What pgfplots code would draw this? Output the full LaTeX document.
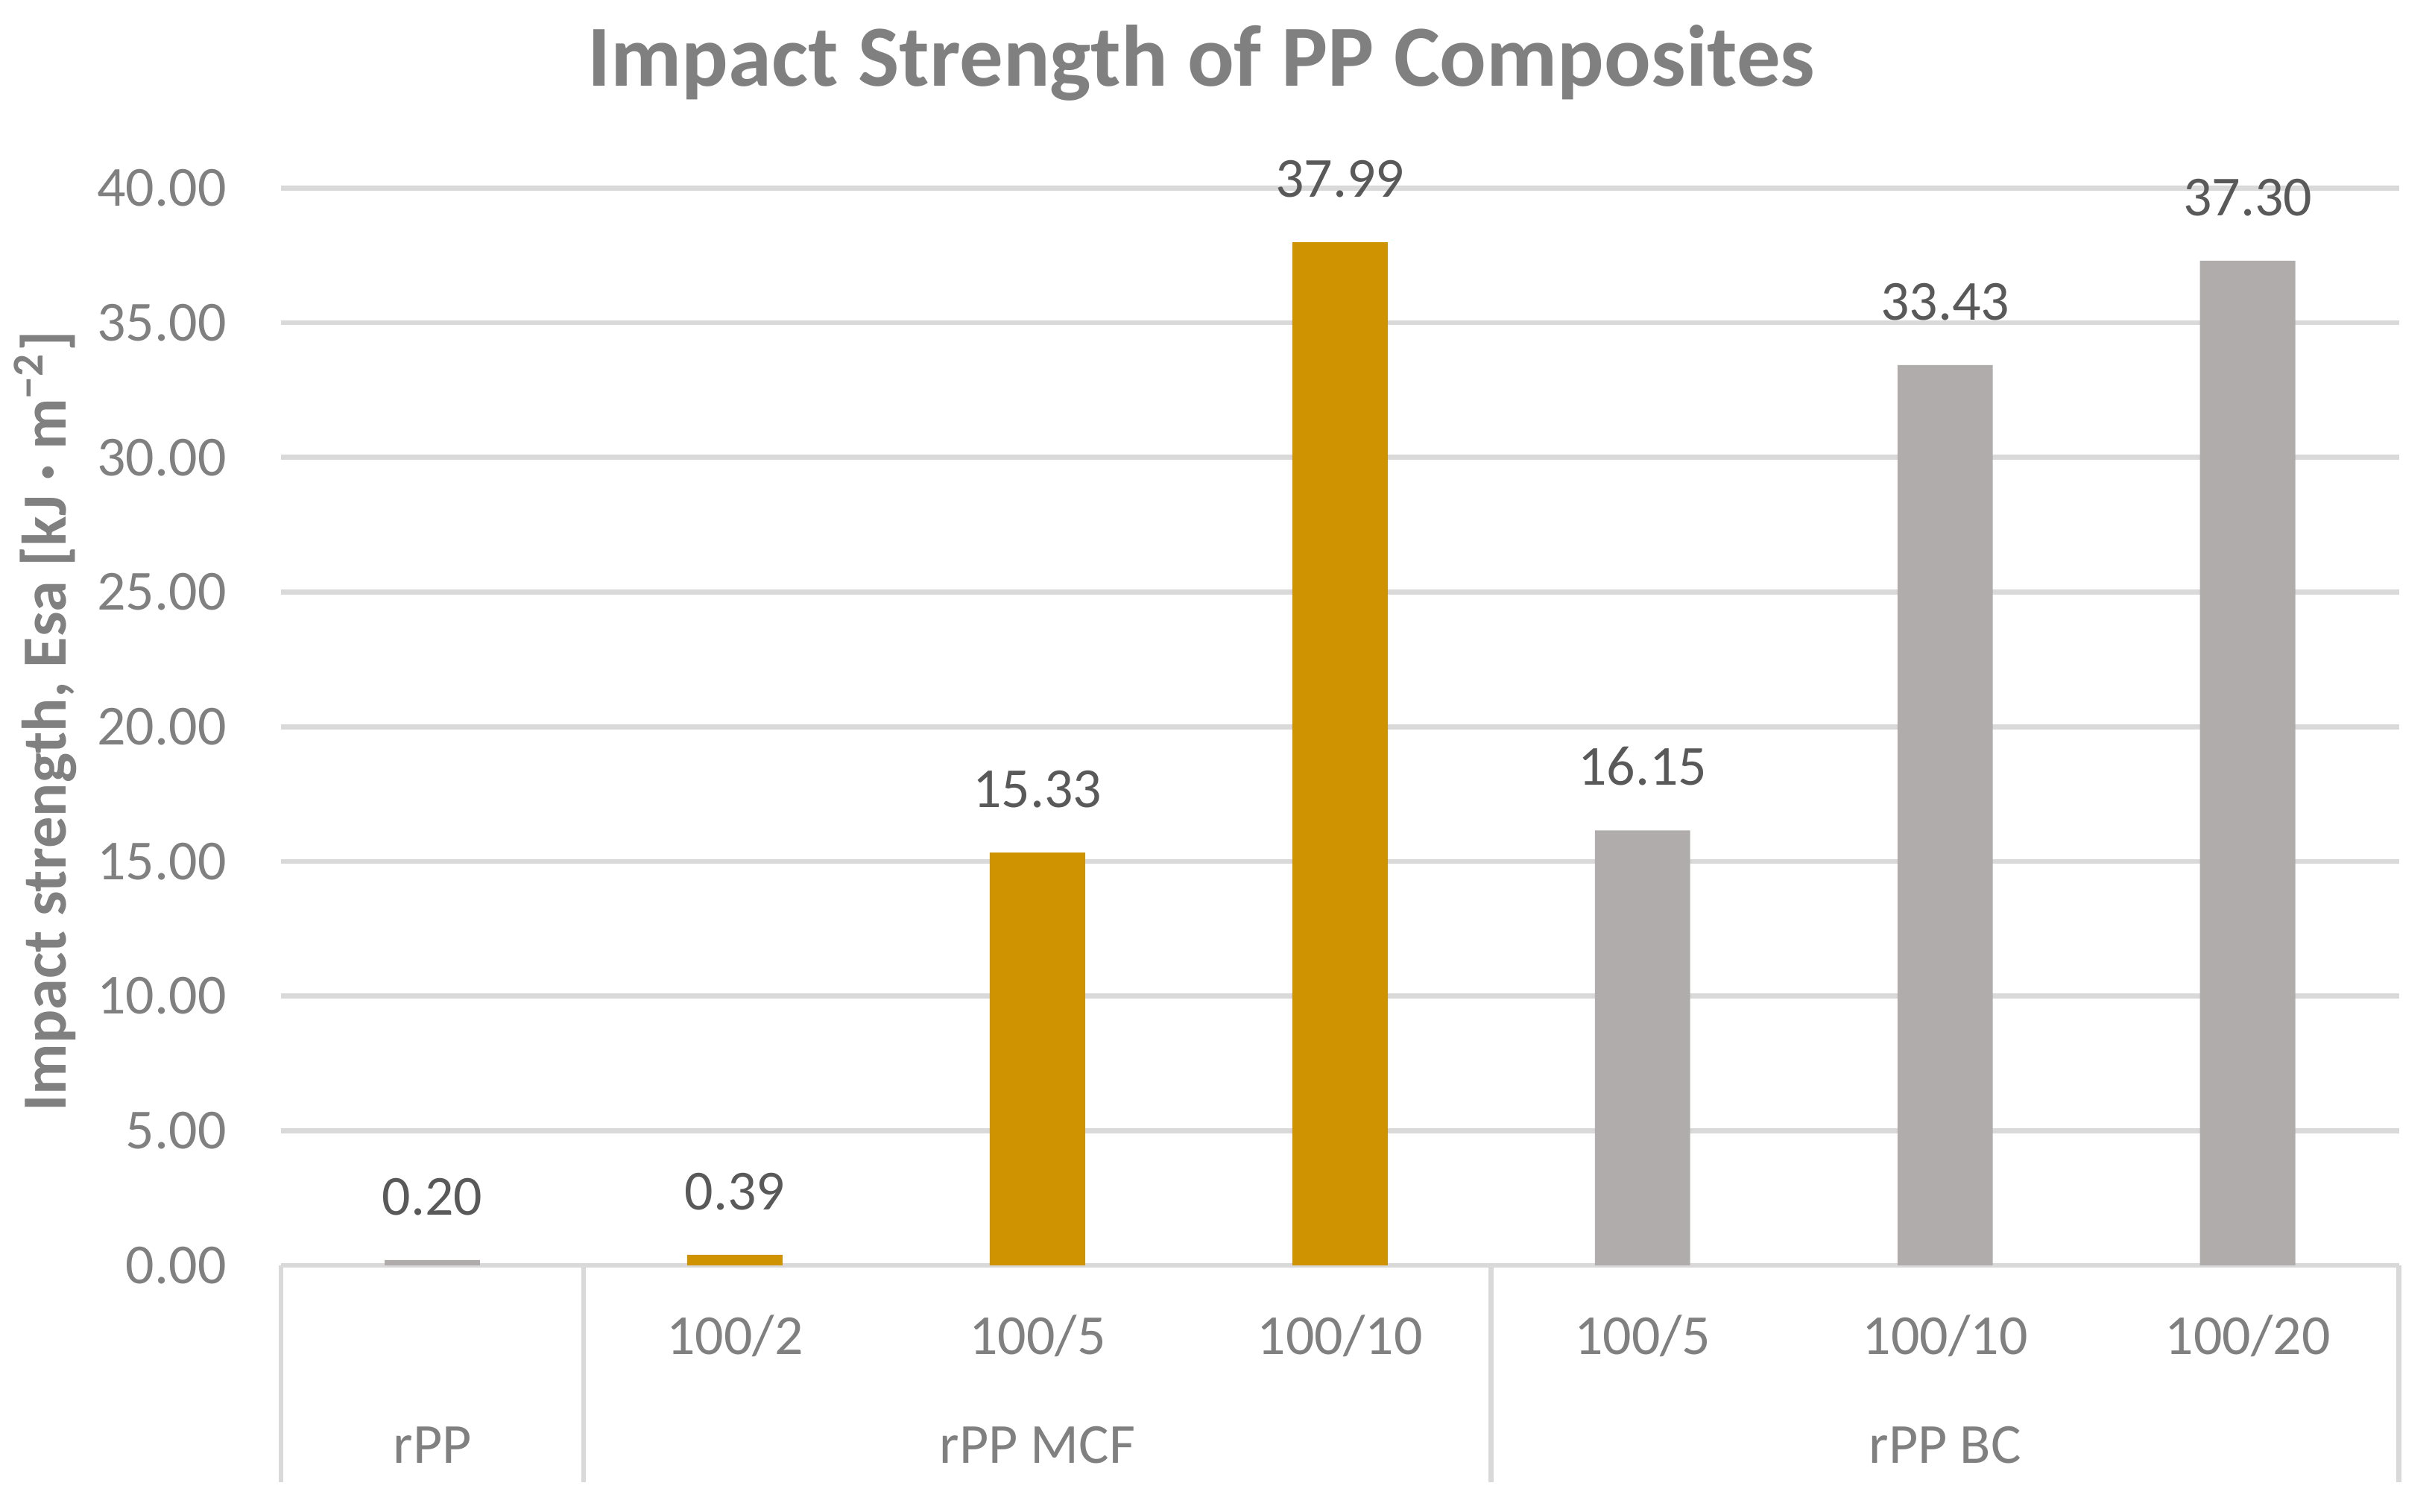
\documentclass[border=0pt]{standalone}
\usepackage{fontspec}
\setmainfont{Carlito}
\usepackage{pgfplots}
\pgfplotsset{compat=1.18}
\definecolor{gold}{HTML}{CF9200}
\definecolor{bargray}{HTML}{B0ACAB}
\definecolor{gridgray}{HTML}{D9D9D9}
\definecolor{txtgray}{HTML}{808080}
\definecolor{lblgray}{HTML}{595959}
\begin{document}
\begin{tikzpicture}
\useasboundingbox (0,0) rectangle (387.1pt,240.3pt);
\begin{axis}[
  at={(44.67pt,39.1pt)}, anchor=south west,
  scale only axis, width=336.7pt, height=171.3pt,
  xmin=-0.5, xmax=6.5, ymin=0, ymax=40,
  axis line style={draw=none},
  major tick length=0pt,
  ytick={0,5,...,40},
  ymajorgrids, grid style={gridgray, line width=0.8pt},
  xtick={0,...,6},
  xticklabels={,100/2,100/5,100/10,100/5,100/10,100/20},
  /pgf/number format/assume math mode=true,
  yticklabel style={/pgf/number format/.cd, fixed, fixed zerofill, precision=2, /tikz/.cd,
     anchor=east, inner sep=0pt, xshift=-8.5pt, font=\fontsize{9}{11}\selectfont, text=txtgray},
  xticklabel style={anchor=base, inner sep=0pt, yshift=-14.1pt, font=\fontsize{9}{11}\selectfont, text=txtgray},
  ybar, bar width=0.315,
  nodes near coords={\pgfmathprintnumber[fixed,fixed zerofill,precision=2,assume math mode=true]{\pgfplotspointmeta}},
  nodes near coords style={anchor=south, inner sep=0pt, yshift=6.9pt, font=\fontsize{9}{11}\selectfont, text=lblgray},
  clip=false,
]
\addplot[fill=bargray, draw=none, bar shift=0pt] coordinates {(0,0.20) (4,16.15) (5,33.43) (6,37.30)};
\addplot[fill=gold, draw=none, bar shift=0pt] coordinates {(1,0.39) (2,15.33) (3,37.99)};
\pgfplotsinvokeforeach{-0.5,0.5,3.5,6.5}{
  \draw[gridgray, line width=0.8pt] (axis cs:#1,0) -- ++(0pt,-34.5pt);
}
\node[anchor=base, inner sep=0pt, font=\fontsize{9}{11}\selectfont, text=txtgray] at ([yshift=-31.4pt]axis cs:0,0) {rPP};
\node[anchor=base, inner sep=0pt, font=\fontsize{9}{11}\selectfont, text=txtgray] at ([yshift=-31.4pt]axis cs:2,0) {rPP MCF};
\node[anchor=base, inner sep=0pt, font=\fontsize{9}{11}\selectfont, text=txtgray] at ([yshift=-31.4pt]axis cs:5,0) {rPP BC};
\end{axis}
\node[anchor=base, inner sep=0pt, font=\fontsize{13.85}{17}\selectfont\bfseries, text=txtgray] at (191.0pt,226.6pt) {Impact Strength of PP Composites};
\node[anchor=base, rotate=90, inner sep=0pt, font=\fontsize{10}{12}\selectfont\bfseries, text=txtgray] at (10.5pt,125.6pt) {Impact strength, Esa [kJ · m\textsuperscript{−2}]};
\end{tikzpicture}
\end{document}
